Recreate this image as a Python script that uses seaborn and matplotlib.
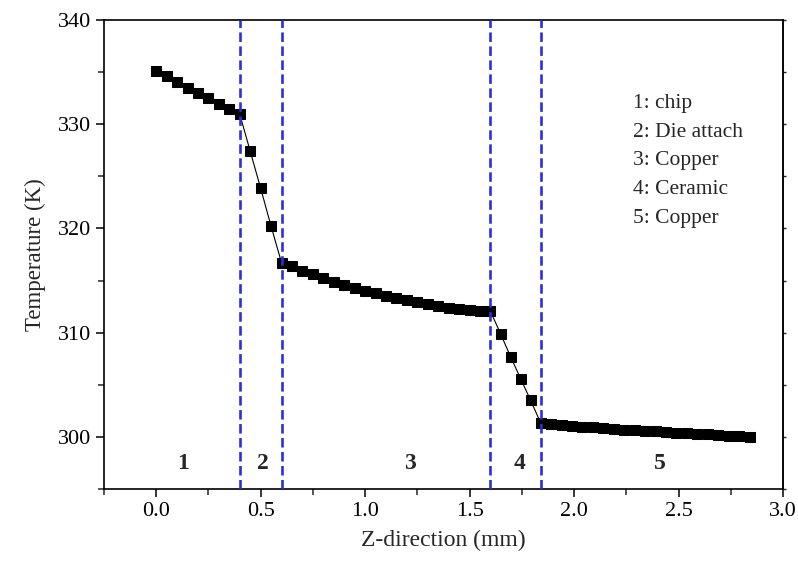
import numpy as np
import pandas as pd
import matplotlib
matplotlib.use("Agg")
import matplotlib.pyplot as plt
import seaborn as sns

# Temperature profile along the stack, one array per layer
z_chip = [0.00, 0.05, 0.10, 0.15, 0.20, 0.25, 0.30, 0.35, 0.40]
t_chip = [335.10, 334.59, 334.04, 333.49, 332.98, 332.47, 331.95, 331.44, 330.96]

z_die = [0.45, 0.50, 0.55, 0.60]
t_die = [327.40, 323.85, 320.20, 316.70]

z_cu1 = [0.65, 0.70, 0.75, 0.80, 0.85, 0.90, 0.95, 1.00, 1.05, 1.10,
         1.15, 1.20, 1.25, 1.30, 1.35, 1.40, 1.45, 1.50, 1.55, 1.60]
t_cu1 = [316.35, 315.93, 315.60, 315.20, 314.87, 314.58, 314.30, 314.00, 313.78, 313.50,
         313.30, 313.10, 312.95, 312.76, 312.57, 312.40, 312.30, 312.20, 312.10, 312.05]

z_cer = [1.648, 1.696, 1.744, 1.792, 1.84]
t_cer = [309.90, 307.70, 305.60, 303.50, 301.35]

z_cu2 = [1.89, 1.94, 1.99, 2.04, 2.09, 2.14, 2.19, 2.24, 2.29, 2.34,
         2.39, 2.44, 2.49, 2.54, 2.59, 2.64, 2.69, 2.74, 2.79, 2.84]
t_cu2 = [301.25, 301.15, 301.07, 300.99, 300.91, 300.84, 300.77, 300.70, 300.64, 300.58,
         300.52, 300.46, 300.40, 300.34, 300.28, 300.23, 300.18, 300.12, 300.06, 300.00]

boundaries = [0.40, 0.60, 1.60, 1.84]
region_ids = ["1", "2", "3", "4", "5"]
region_x = [0.13, 0.51, 1.215, 1.74, 2.41]
legend_lines = ["1: chip", "2: Die attach", "3: Copper", "4: Ceramic", "5: Copper"]

df = pd.DataFrame({
    "z": z_chip + z_die + z_cu1 + z_cer + z_cu2,
    "T": t_chip + t_die + t_cu1 + t_cer + t_cu2,
})

sns.set_style("ticks")
plt.rcParams["font.family"] = ["Liberation Serif", "DejaVu Serif"]
plt.rcParams["mathtext.fontset"] = "stix"

fig = plt.figure(figsize=(7.98, 5.64), dpi=100)
ax = fig.add_axes([0.1303, 0.133, 0.8509, 0.8315])

sns.lineplot(data=df, x="z", y="T", ax=ax, color="black", linewidth=0.8,
             marker="s", markersize=6.5, markeredgecolor="black",
             markerfacecolor="black", sort=False)

for b in boundaries:
    ax.axvline(b, color="#2b2fdc", linewidth=1.9, dashes=(3.6, 1.7), zorder=3)

for rid, rx in zip(region_ids, region_x):
    ax.text(rx, 297.4, rid, ha="center", va="center", fontsize=17,
            fontweight="bold")

for i, s in enumerate(legend_lines):
    ax.text(0.779, 0.823 - i * 0.0618, s, transform=ax.transAxes,
            ha="left", va="center", fontsize=15.5)

ax.set_xlim(-0.25, 3.0)
ax.set_ylim(295, 340)
ax.set_xticks([0.0, 0.5, 1.0, 1.5, 2.0, 2.5, 3.0])
ax.set_xticklabels(["0.0", "0.5", "1.0", "1.5", "2.0", "2.5", "3.0"])
ax.set_yticks([300, 310, 320, 330, 340])
ax.set_xticks(np.arange(-0.25, 3.01, 0.25), minor=True)
ax.set_yticks(np.arange(295, 341, 5), minor=True)

ax.set_xlabel("Z-direction (mm)", fontsize=17, labelpad=6)
ax.set_ylabel("Temperature (K)", fontsize=16.5, labelpad=8)

for sp in ax.spines.values():
    sp.set_linewidth(1.2)
    sp.set_color("black")
    sp.set_visible(True)

ax.tick_params(axis="both", which="major", direction="out", length=6,
               width=1.1, labelsize=16, colors="black")
ax.tick_params(axis="both", which="minor", direction="out", length=4,
               width=1.1)
ax.tick_params(axis="x", which="both", top=False)

# short unlabeled ticks on the right-hand frame
sec = ax.secondary_yaxis("right")
sec.set_yticks([300, 310, 320, 330, 340])
sec.set_yticks(np.arange(295, 341, 5), minor=True)
sec.tick_params(which="both", direction="out", length=2.5, width=1.0,
                labelright=False)
sec.spines["right"].set_linewidth(1.2)

fig.savefig("out.png", dpi=100)
